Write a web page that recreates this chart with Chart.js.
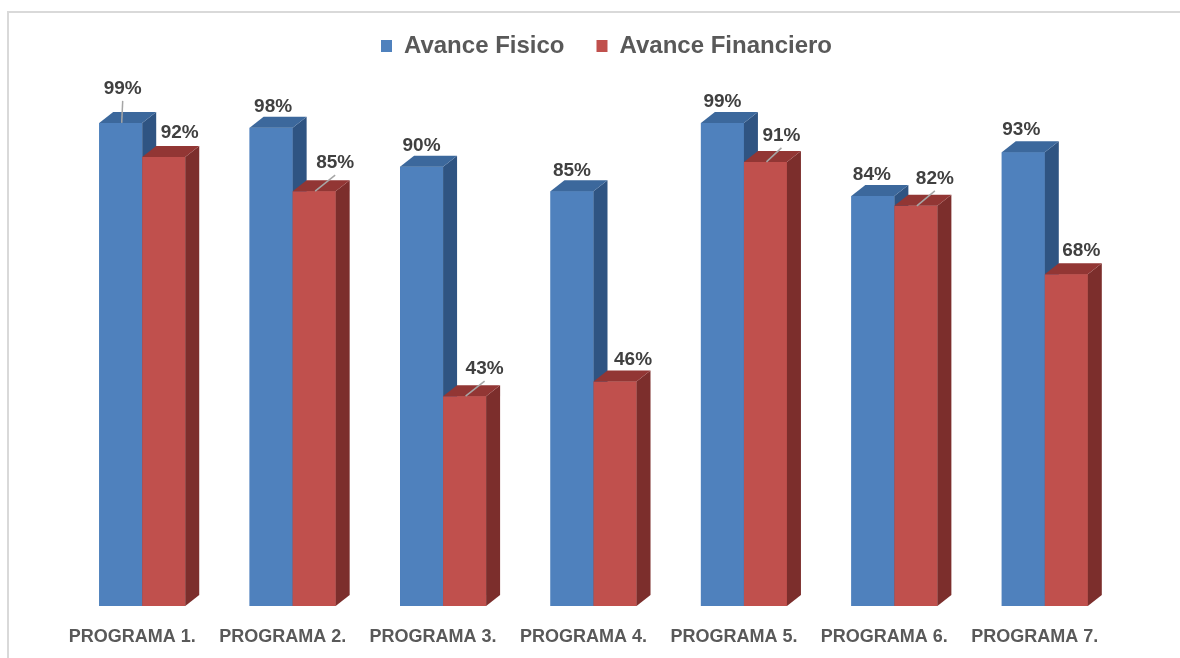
<!DOCTYPE html>
<html lang="es">
<head>
<meta charset="utf-8">
<title>Avance Fisico y Financiero</title>
<script src="https://cdn.jsdelivr.net/npm/chart.js@4.4.1/dist/chart.umd.min.js"></script>
<style>
  html, body { margin: 0; padding: 0; background: #fff; overflow: hidden; }
  #frame {
    position: absolute; left: 7px; top: 11px; width: 1300px; height: 800px;
    border-left: 2px solid #d9d9d9; border-top: 2px solid #d9d9d9;
  }
  #chart { position: absolute; left: 0; top: 0; }
</style>
</head>
<body>
<div id="frame"></div>
<canvas id="chart" width="1180" height="658"></canvas>
<script>
// datos del grafico
const programas = ['PROGRAMA 1.', 'PROGRAMA 2.', 'PROGRAMA 3.', 'PROGRAMA 4.', 'PROGRAMA 5.', 'PROGRAMA 6.', 'PROGRAMA 7.'];
const avanceFisico = [99, 98, 90, 85, 99, 84, 93];
const avanceFinanciero = [92, 85, 43, 46, 91, 82, 68];

// posicion de cada etiqueta respecto a la barra: [dx, dy, linea guia]
const etiquetasFisico = [[2, -34, 1], [2, -21, 0], [0, -21, 0], [0, -20, 0], [0, -21, 0], [-1, -21, 0], [-2, -22, 0]];
const etiquetasFinanciero = [[16, -24, 0], [21, -28, 1], [20, -27, 1], [18, -22, 0], [16, -26, 1], [19, -27, 1], [15, -23, 0]];

const FONT = "'Liberation Sans', Arial, sans-serif";
const DEPTH_X = 14;   // profundidad 3D hacia la derecha
const DEPTH_Y = 11;   // profundidad 3D hacia arriba
const LEGEND_HEIGHT = 118;

/**
 * Dibuja la cara superior y lateral de una barra (efecto 3D)
 */
function drawFaces(ctx, bar, ds) {
  const { x, y, base, width } = bar.getProps(['x', 'y', 'base', 'width'], true);
  const l = x - width / 2, r = x + width / 2;
  ctx.fillStyle = ds.sideColor;
  ctx.beginPath();
  ctx.moveTo(r, y);
  ctx.lineTo(r + DEPTH_X, y - DEPTH_Y);
  ctx.lineTo(r + DEPTH_X, base - DEPTH_Y);
  ctx.lineTo(r, base);
  ctx.closePath();
  ctx.fill();
  ctx.fillStyle = ds.topColor;
  ctx.beginPath();
  ctx.moveTo(l, y);
  ctx.lineTo(r, y);
  ctx.lineTo(r + DEPTH_X, y - DEPTH_Y);
  ctx.lineTo(l + DEPTH_X, y - DEPTH_Y);
  ctx.closePath();
  ctx.fill();
}

const bar3d = {
  id: 'bar3d',
  beforeInit(chart) {
    // espacio fijo bajo la leyenda y leyenda algo desplazada
    const legend = chart.legend;
    const fit = legend.fit;
    legend.fit = function () {
      fit.call(this);
      this.height = LEGEND_HEIGHT;
    };
    const draw = legend.draw;
    legend.draw = function () {
      this.ctx.save();
      this.ctx.translate(13, 2);
      draw.call(this);
      this.ctx.restore();
    };
  },
  afterDatasetsDraw(chart) {
    const ctx = chart.ctx;
    ctx.save();
    // barras por orden: frente, lateral y techo
    chart.data.datasets.forEach((ds, i) => {
      chart.getDatasetMeta(i).data.forEach(bar => {
        bar.draw(ctx);
        drawFaces(ctx, bar, ds);
      });
    });
    // etiquetas de porcentaje con lineas guia
    ctx.font = 'bold 19px ' + FONT;
    ctx.fillStyle = '#404040';
    ctx.strokeStyle = '#a6a6a6';
    ctx.lineWidth = 1.5;
    ctx.textAlign = 'center';
    ctx.textBaseline = 'middle';
    chart.data.datasets.forEach((ds, i) => {
      chart.getDatasetMeta(i).data.forEach((bar, j) => {
        const { x, y } = bar.getProps(['x', 'y'], true);
        const [dx, dy, guia] = ds.etiquetas[j];
        const lx = x + dx, ly = y + dy;
        if (guia) {
          ctx.beginPath();
          ctx.moveTo(lx, ly + 12);
          ctx.lineTo(x + 1, y);
          ctx.stroke();
        }
        ctx.fillText(ds.data[j] + '%', lx, ly);
      });
    });
    ctx.restore();
  }
};

new Chart(document.getElementById('chart'), {
  type: 'bar',
  data: {
    labels: programas,
    datasets: [{
      label: 'Avance Fisico',
      data: avanceFisico,
      backgroundColor: '#4f81bd',
      topColor: '#3c689c',
      sideColor: '#2f5482',
      etiquetas: etiquetasFisico
    }, {
      label: 'Avance Financiero',
      data: avanceFinanciero,
      backgroundColor: '#c0504d',
      topColor: '#923634',
      sideColor: '#7c2e2c',
      etiquetas: etiquetasFinanciero
    }]
  },
  options: {
    responsive: false,
    animation: false,
    devicePixelRatio: 1,
    layout: { padding: { left: 67, right: 60, top: 0, bottom: 0 } },
    datasets: { bar: { categoryPercentage: 0.572, barPercentage: 1, borderWidth: 0 } },
    plugins: {
      tooltip: { enabled: false },
      legend: {
        labels: {
          boxWidth: 11,
          boxHeight: 12,
          padding: 32,
          color: '#595959',
          font: { family: FONT, size: 24, weight: 'bold' }
        }
      }
    },
    scales: {
      x: {
        grid: { display: false, drawTicks: false },
        border: { display: false },
        ticks: {
          color: '#595959',
          padding: 20,
          labelOffset: -10,
          font: { family: FONT, size: 18, weight: 'bold' }
        },
        afterFit: s => { s.height = 52; }
      },
      y: { display: false, min: 0, max: 100 }
    }
  },
  plugins: [bar3d]
});
</script>
</body>
</html>
